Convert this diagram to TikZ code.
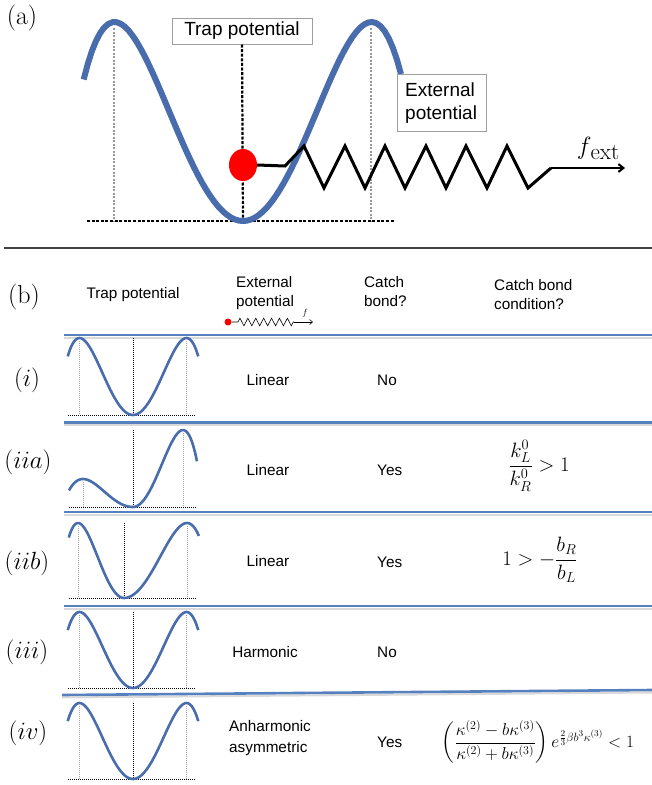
\documentclass[tikz,border=0pt]{standalone}
\usepackage{amsmath}
\usepackage{fontspec}
\setsansfont{Liberation Sans}
\usetikzlibrary{arrows.meta,decorations.pathmorphing,shapes.geometric}
\definecolor{curveblue}{RGB}{72,108,172}
\definecolor{ruleblue}{RGB}{86,128,190}
\newcommand\fa{\sffamily\fontsize{19}{23}\selectfont}
\newcommand\fb{\sffamily\fontsize{15.3}{18.5}\selectfont}
\newcommand\potcurve[9]{% #1 style, #2 cx, #3 yb, #4 hwL, #5 hL, #6 sL, #7 hwR, #8 hR, #9 sR
  \draw[#1] plot[domain=-#6:0,samples=40] ({#2+#4*\x},{#3-#5*(2*(\x)*(\x)-(\x)*(\x)*(\x)*(\x))})
    -- plot[domain=0:#9,samples=40] ({#2+#7*\x},{#3-#8*(2*(\x)*(\x)-(\x)*(\x)*(\x)*(\x))});}
\tikzset{
  bigcurve/.style={curveblue,line width=6pt,line join=round},
  smallcurve/.style={curveblue,line width=2.6pt,line join=round},
  graydash/.style={gray!80,line width=1.2pt,dash pattern=on 2pt off 1.5pt},
  blackdash/.style={black,line width=2.2pt,dash pattern=on 3pt off 1.6pt},
  graydot/.style={gray!70,line width=0.7pt,dash pattern=on 1pt off 1pt},
  blackdot/.style={black,line width=0.8pt,dash pattern=on 1pt off 1pt},
  rulebl/.style={ruleblue,line width=2.6pt},
  ruleshadow/.style={gray!30,line width=2pt},
  lbl/.style={inner sep=0pt},
  lblw/.style={inner sep=0pt,anchor=base west},
  boxa/.style={draw=gray!75,line width=1pt,fill=white,inner sep=0pt},
}
\newcommand\smallpot[9]{%
  \draw[graydot] ({#1-#3},{#2-#4+3}) -- ({#1-#3},#2);
  \draw[graydot] ({#1+#6},{#2-#7+3}) -- ({#1+#6},#2);
  \draw[blackdot] (#1,{#2-max(#4,#7)}) -- (#1,#2);
  \draw[blackdot] (#9,#2+0.8) -- ({#9+128},#2+0.8);
  \potcurve{smallcurve}{#1}{#2}{#3}{#4}{#5}{#6}{#7}{#8}
}
\begin{document}
\begin{tikzpicture}[x=1pt,y=-1pt]
\useasboundingbox (0,0) rectangle (652,785);
% ---------------- (a) ----------------
\node[lbl] (la) at (22,18) {\fontsize{26}{26}\selectfont (a)};
\draw[graydash] (114,28) -- (114,221);
\draw[graydash] (371,28) -- (371,221);
\draw[blackdash] (87,221) -- (395,221);
\node[boxa,minimum width=140pt,minimum height=26pt] (trap) at (242,31) {\fa Trap potential};
\coordinate (bot) at (243,221);
\draw[blackdash] (trap.south) -- (bot);
\potcurve{bigcurve}{243}{221}{128.5}{199}{1.24}{128.5}{199}{1.23}
\node[boxa,minimum width=89pt,minimum height=57pt] (ext) at (441.5,102.5) {};
\node[lblw] (ext1) at (405,96) {\fa External};
\node[lblw] (ext2) at (405,119) {\fa potential};
\node[ellipse,fill=red,minimum width=28pt,minimum height=32pt,inner sep=0pt] (ball) at (243,165) {};
\coordinate (sEnd) at (551,168);
\draw[black,line width=3pt,line join=miter,miter limit=4] (ball.east) -- (285,166) -- (304,146) -- (324,188) -- (345,146) -- (365,188) -- (385,146) -- (405,188) -- (426,146) -- (446,188) -- (466,146) -- (487,188) -- (507,146) -- (528,188) -- (sEnd);
\node[lbl] (fext) at (598,148) {\fontsize{32}{32}\selectfont $f$\kern-1pt\raisebox{-5pt}{\rmfamily\fontsize{23}{23}\selectfont ext}};
\coordinate (aEnd) at (625,168);
\draw[black,line width=2pt,-{Straight Barb[length=5pt,width=8pt]}] (sEnd) -- (aEnd);
\draw[black!75,line width=1.3pt] (4,248) -- (652,248);
% ---------------- (b) header ----------------
\node[lbl] (lb) at (24,297) {\fontsize{26}{26}\selectfont (b)};
\node[lbl] (h1) at (133,295) {\fb Trap potential};
\node[lblw] (h2a) at (236,287) {\fb External};
\node[lblw] (h2b) at (236,306) {\fb potential};
\node[lblw] (h3a) at (364,287) {\fb Catch};
\node[lblw] (h3b) at (364,306) {\fb bond?};
\node[lblw] (h4a) at (494,290) {\fb Catch bond};
\node[lblw] (h4b) at (494,309) {\fb condition?};
\node[circle,fill=red,minimum size=7pt,inner sep=0pt] (dot) at (228,322) {};
\coordinate (z1) at (238,322);
\coordinate (z2) at (294,322);
\coordinate (z3) at (313,322);
\draw[black,line width=0.6pt] (dot.east) -- (z1) decorate[decoration={zigzag,segment length=7.9pt,amplitude=3.8pt}]{-- (z2)};
\draw[black,line width=0.6pt,-{Straight Barb[length=3pt,width=5pt]}] (z2) -- (z3);
\node[lbl] (hf) at (305,313) {\fontsize{9}{9}\selectfont $f$};
% rules
\draw[ruleshadow] (64,337.5) -- (652,337.5);
\draw[rulebl] (64,335) -- (652,335);
\draw[ruleshadow] (64,425) -- (652,425);
\draw[rulebl] (64,422.5) -- (652,422.5);
\draw[ruleshadow] (64,514.5) -- (652,514.5);
\draw[ruleshadow] (64,608.5) -- (652,608.5);
\draw[ruleshadow] (62,697.5) -- (652,692.5);
% ---------------- rows ----------------
% (i)
\node[lbl] (r1) at (27,380) {\fontsize{23}{23}\selectfont $(i)$};
\smallpot{133}{415}{53.5}{77}{1.22}{53.5}{77}{1.22}{68}
\node[lbl] (r1b) at (268,380) {\fb Linear};
\node[lbl,anchor=west] (r1c) at (377,380) {\fb No};
% (iia)
\node[lbl] (r2) at (28,462) {\fontsize{23}{23}\selectfont $(iia)$};
\smallpot{133}{507}{50}{28}{1.28}{50}{77}{1.28}{69}
\node[lbl] (r2b) at (268,470) {\fb Linear};
\node[lbl,anchor=west] (r2c) at (377,470) {\fb Yes};
\node[lbl] (r2d) at (539,466) {\fontsize{20}{20}\selectfont $\dfrac{k_L^0}{k_R^0}>1$};
% (iib)
\node[lbl] (r3) at (27,563) {\fontsize{23}{23}\selectfont $(iib)$};
\smallpot{124}{598}{46}{75}{1.2}{63}{75}{1.19}{69}
\node[lbl] (r3b) at (268,561) {\fb Linear};
\node[lbl,anchor=west] (r3c) at (377,562) {\fb Yes};
\node[lbl] (r3d) at (540,560) {\fontsize{20}{20}\selectfont $1>-\dfrac{b_R}{b_L}$};
% (iii)
\node[lbl] (r4) at (27,652) {\fontsize{23}{23}\selectfont $(iii)$};
\smallpot{133}{688}{53.5}{76}{1.22}{53.5}{76}{1.22}{68}
\node[lbl] (r4b) at (265,652) {\fb Harmonic};
\node[lbl,anchor=west] (r4c) at (377,652) {\fb No};
% (iv)
\node[lbl] (r5) at (28,733) {\fontsize{23}{23}\selectfont $(iv)$};
\smallpot{133}{779}{53.5}{76}{1.22}{53.5}{76}{1.22}{68}
\node[lblw] (r5b1) at (229,731) {\fb Anharmonic};
\node[lblw] (r5b2) at (229,752) {\fb asymmetric};
\node[lbl,anchor=west] (r5c) at (377,742) {\fb Yes};
\node[lbl] (r5d) at (538,742) {\fontsize{18}{18}\selectfont $\left(\dfrac{\kappa^{(2)}-b\kappa^{(3)}}{\kappa^{(2)}+b\kappa^{(3)}}\right)e^{\frac{2}{3}\beta b^3\kappa^{(3)}}<1$};
% blue rules on top
\draw[rulebl] (64,512) -- (652,512);
\draw[rulebl] (64,606) -- (652,606);
\draw[rulebl] (62,695) -- (652,690);
\end{tikzpicture}
\end{document}
